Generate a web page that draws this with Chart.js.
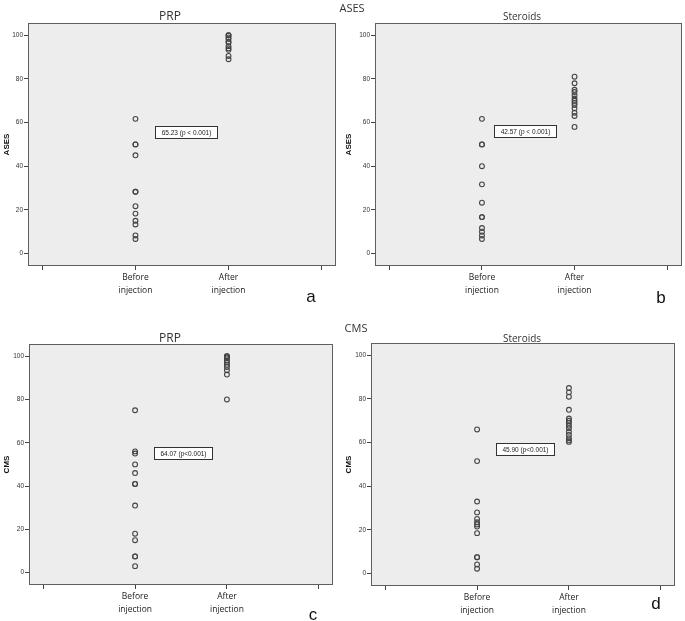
<!DOCTYPE html>
<html>
<head>
<meta charset="utf-8">
<script src="https://cdn.jsdelivr.net/npm/chart.js@4.4.0/dist/chart.umd.min.js"></script>
<style>
  html, body { margin: 0; padding: 0; background: #ffffff; }
  #wrap { position: relative; width: 685px; height: 621px; overflow: hidden; font-family: "Open Sans", "Noto Sans", sans-serif; color: #333; }
  canvas { position: absolute; }
  .txt { position: absolute; white-space: nowrap; transform: translate(-50%, -50%); line-height: 1; }
</style>
</head>
<body>
<div id="wrap">
  <canvas id="cA" width="342" height="310" style="left:0px;top:0px"></canvas>
  <canvas id="cB" width="343" height="310" style="left:342px;top:0px"></canvas>
  <canvas id="cC" width="342" height="311" style="left:0px;top:310px"></canvas>
  <canvas id="cD" width="343" height="311" style="left:342px;top:310px"></canvas>

  <div class="txt" style="left:352px;top:7px;font-size:11px;">ASES</div>
  <div class="txt" style="left:356px;top:327px;font-size:11px;">CMS</div>

  <div class="txt" style="left:170px;top:16px;font-size:12px;">PRP</div>
  <div class="txt" style="left:522px;top:16px;font-size:10px;">Steroids</div>
  <div class="txt" style="left:170px;top:338px;font-size:12px;">PRP</div>
  <div class="txt" style="left:522px;top:338px;font-size:10px;">Steroids</div>

  <div class="txt" style="left:311px;top:296px;font-size:17px;font-family:'Liberation Sans',Arial,sans-serif;color:#111;">a</div>
  <div class="txt" style="left:661px;top:297px;font-size:17px;font-family:'Liberation Sans',Arial,sans-serif;color:#111;">b</div>
  <div class="txt" style="left:313px;top:614px;font-size:17px;font-family:'Liberation Sans',Arial,sans-serif;color:#111;">c</div>
  <div class="txt" style="left:656px;top:603px;font-size:17px;font-family:'Liberation Sans',Arial,sans-serif;color:#111;">d</div>
</div>
<script>
// ---------------- DATA ----------------
const categories = ["Before injection", "After injection"];
const categoryPositions = [1, 2];
const xTickPositions = [0, 1, 2, 3];
const xTickLabels = ["", ["Before", "injection"], ["After", "injection"], ""];
const yTicks = [0, 20, 40, 60, 80, 100];

// ASES – PRP (panel a)
const asesPrpBefore = [61.7, 50, 50, 45, 28.3, 28.3, 21.7, 18.3, 15, 13.3, 8.3, 6.7];
const asesPrpAfter  = [100, 100, 99, 98.3, 97, 96.7, 95, 94, 93.3, 90.5, 89];
const asesPrpLabel  = "65.23 (p < 0.001)";

// ASES – Steroids (panel b)
const asesSteroidBefore = [61.7, 50, 50, 40, 31.7, 23.3, 16.7, 16.7, 11.7, 10, 8.3, 6.7];
const asesSteroidAfter  = [81, 78, 75, 74, 72.5, 71, 70, 69, 68, 66.5, 64.5, 63, 58];
const asesSteroidLabel  = "42.57 (p < 0.001)";

// CMS – PRP (panel c)
const cmsPrpBefore = [75, 56, 55, 50, 46, 41, 41, 31, 18, 15, 7.5, 7.5, 3];
const cmsPrpAfter  = [100, 100, 99.5, 99, 98, 97, 96, 95, 93.5, 91.5, 80];
const cmsPrpLabel  = "64.07 (p<0.001)";

// CMS – Steroids (panel d)
const cmsSteroidBefore = [66, 51.5, 33, 28, 25, 23.5, 22.5, 21.5, 18.5, 7.5, 7.5, 4.2, 2.2];
const cmsSteroidAfter  = [85, 83, 81, 75, 71, 70, 69, 67.7, 66.5, 65, 63.5, 62, 61, 60.3];
const cmsSteroidLabel  = "45.90 (p<0.001)";

// annotation box anchor (data coordinates)
const labelAnchorsX = [1.54, 1.47, 1.52, 1.52];
const labelAnchorsY = [55.7, 56.2, 55.2, 57.1];

// ---------------- DRAWING ----------------
const framePlugin = {
  id: 'frame',
  beforeDraw(chart) {
    const { ctx, chartArea: a } = chart;
    ctx.save();
    ctx.fillStyle = '#ededed';
    ctx.fillRect(a.left, a.top, a.right - a.left, a.bottom - a.top);
    ctx.restore();
  },
  afterDraw(chart, args, opts) {
    const { ctx, chartArea: a } = chart;
    ctx.save();
    ctx.strokeStyle = '#5f5f5f';
    ctx.lineWidth = 1;
    ctx.strokeRect(Math.round(a.left) + 0.5, Math.round(a.top) + 0.5,
                   Math.round(a.right - a.left) - 1, Math.round(a.bottom - a.top) - 1);
    if (opts && opts.text) {
      const px = chart.scales.x.getPixelForValue(opts.x);
      const py = chart.scales.y.getPixelForValue(opts.y);
      ctx.font = '6.5px "Liberation Sans", Arial, sans-serif';
      const tw = ctx.measureText(opts.text).width;
      const w = Math.round(tw + 12), h = 12;
      const x0 = Math.round(px - w / 2) + 0.5, y0 = Math.round(py - h / 2) + 0.5;
      ctx.fillStyle = '#ffffff';
      ctx.fillRect(x0, y0, w, h);
      ctx.strokeStyle = '#333333';
      ctx.strokeRect(x0, y0, w, h);
      ctx.fillStyle = '#222222';
      ctx.textAlign = 'center';
      ctx.textBaseline = 'middle';
      ctx.fillText(opts.text, x0 + w / 2, y0 + h / 2 + 0.5);
    }
    ctx.restore();
  }
};

function toPoints(values, pos) {
  return values.map(v => ({ x: pos, y: v }));
}

function makePanel(canvasId, before, after, yTitle, label, ax, ay, layout) {
  const pointStyle = {
    pointRadius: 2.4,
    pointHoverRadius: 2.4,
    pointBorderWidth: 1.1,
    borderColor: '#444444',
    backgroundColor: 'rgba(0,0,0,0)',
    showLine: false
  };
  return new Chart(document.getElementById(canvasId), {
    type: 'scatter',
    data: {
      datasets: [
        Object.assign({ label: categories[0], data: toPoints(before, categoryPositions[0]) }, pointStyle),
        Object.assign({ label: categories[1], data: toPoints(after, categoryPositions[1]) }, pointStyle)
      ]
    },
    options: {
      responsive: false,
      animation: false,
      devicePixelRatio: 1,
      layout: { padding: { left: 0, top: layout.top, right: layout.right, bottom: 0 } },
      plugins: {
        legend: { display: false },
        tooltip: { enabled: false },
        title: { display: false },
        frame: { text: label, x: ax, y: ay }
      },
      scales: {
        x: {
          type: 'linear',
          min: -0.155,
          max: 3.155,
          afterBuildTicks: axis => { axis.ticks = xTickPositions.map(v => ({ value: v })); },
          afterFit: s => { s.height = layout.xh; },
          border: { display: false },
          grid: { display: true, drawOnChartArea: false, drawTicks: true, tickLength: 4, color: '#444444' },
          ticks: {
            autoSkip: false,
            maxRotation: 0,
            padding: 1,
            color: '#222222',
            font: { family: '"Open Sans", "Noto Sans", sans-serif', size: 8.5, lineHeight: 1.5 },
            callback: (v, i) => xTickLabels[i]
          }
        },
        y: {
          type: 'linear',
          min: -5.7,
          max: 105.6,
          afterBuildTicks: axis => { axis.ticks = yTicks.map(v => ({ value: v })); },
          afterFit: s => { s.width = layout.yw; },
          border: { display: false },
          grid: { display: true, drawOnChartArea: false, drawTicks: true, tickLength: 4, color: '#444444' },
          ticks: {
            padding: 1,
            color: '#333333',
            font: { family: '"Liberation Sans", Arial, sans-serif', size: 6.5 },
            callback: v => String(v)
          },
          title: {
            display: true,
            text: yTitle,
            color: '#111111',
            padding: { top: 2, bottom: 0 },
            font: { family: '"Liberation Sans", Arial, sans-serif', size: 8, weight: 'bold', lineHeight: 1.2 }
          }
        }
      }
    },
    plugins: [framePlugin]
  });
}

makePanel('cA', asesPrpBefore, asesPrpAfter, 'ASES', asesPrpLabel, labelAnchorsX[0], labelAnchorsY[0],
  { top: 23, right: 6, yw: 28, xh: 44 });
makePanel('cB', asesSteroidBefore, asesSteroidAfter, 'ASES', asesSteroidLabel, labelAnchorsX[1], labelAnchorsY[1],
  { top: 23, right: 0, yw: 33, xh: 44 });
makePanel('cC', cmsPrpBefore, cmsPrpAfter, 'CMS', cmsPrpLabel, labelAnchorsX[2], labelAnchorsY[2],
  { top: 34, right: 9, yw: 29, xh: 36 });
makePanel('cD', cmsSteroidBefore, cmsSteroidAfter, 'CMS', cmsSteroidLabel, labelAnchorsX[3], labelAnchorsY[3],
  { top: 33, right: 10, yw: 29, xh: 35 });
</script>
</body>
</html>
